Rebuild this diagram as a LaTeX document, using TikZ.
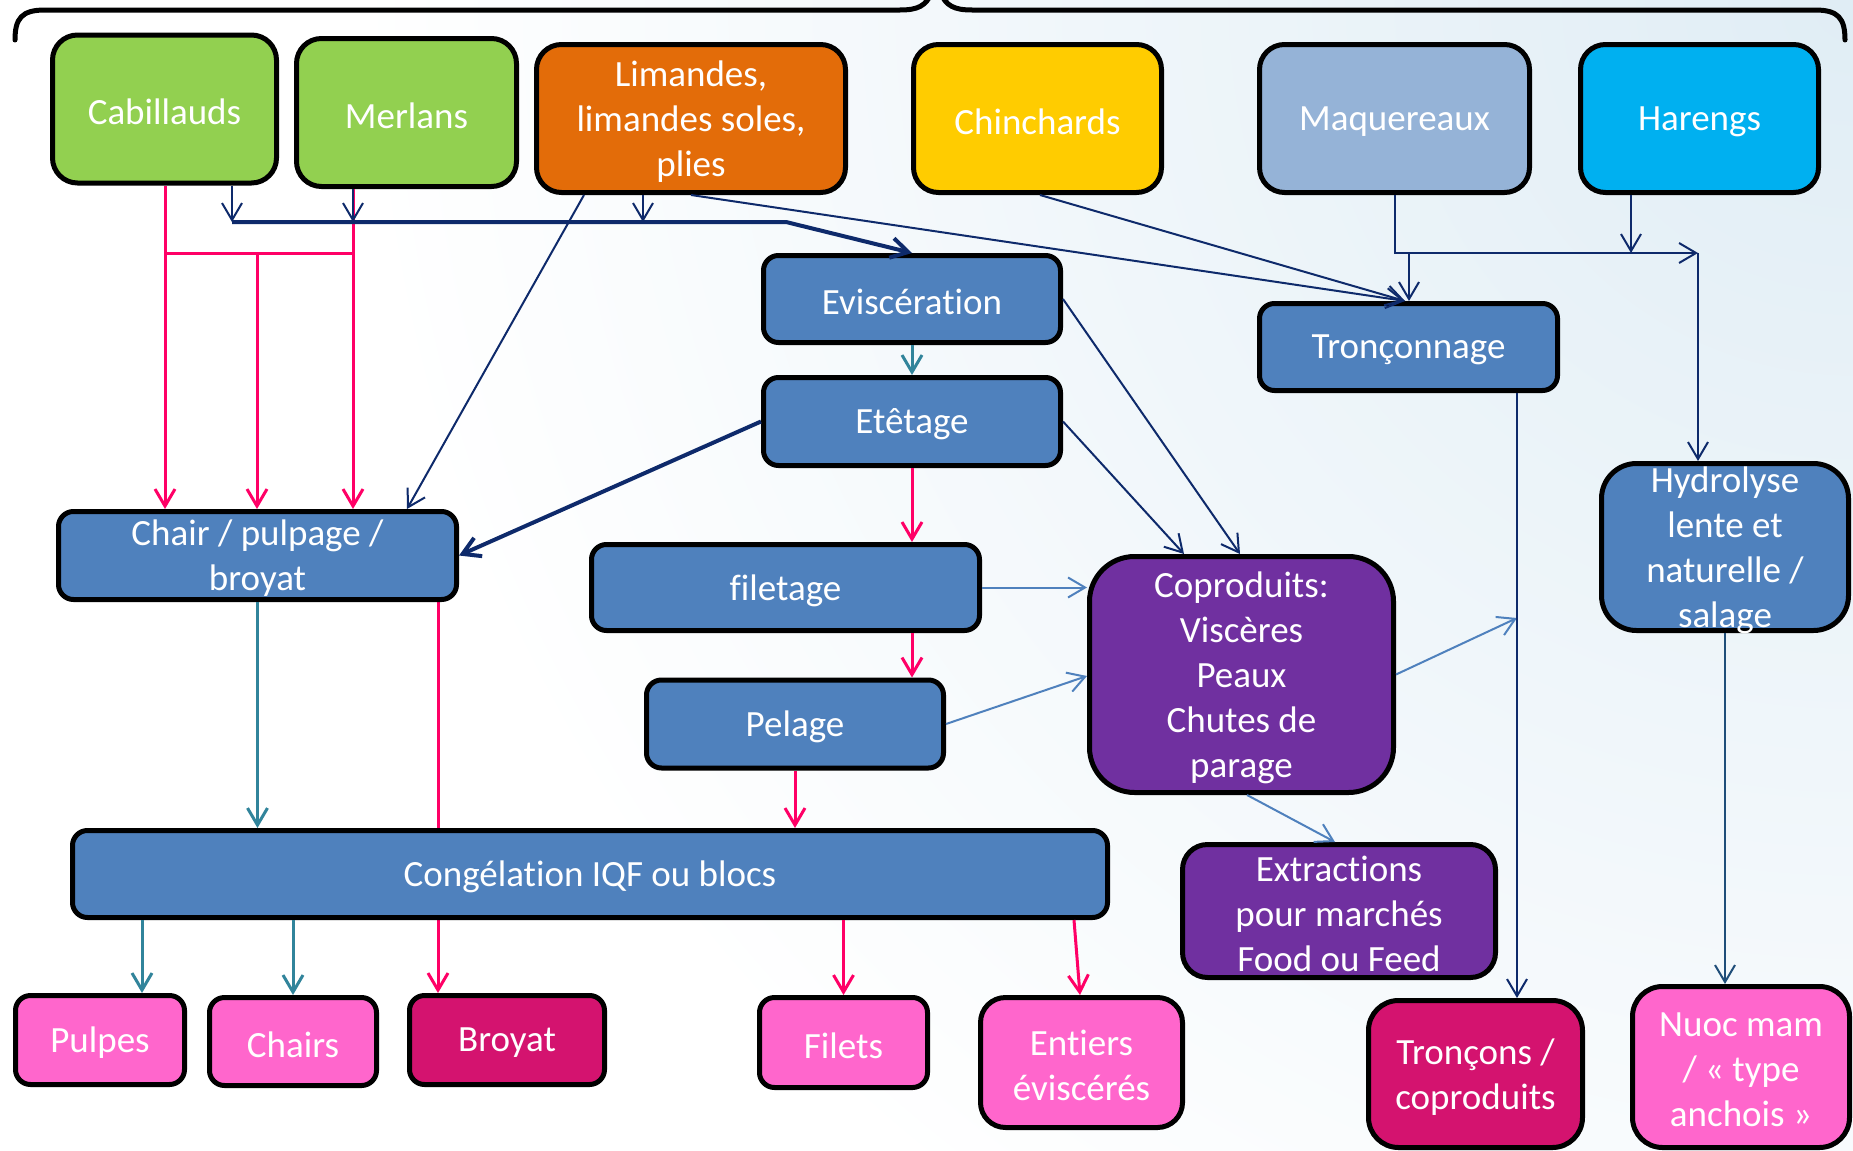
\documentclass[tikz,border=0pt]{standalone}
\usepackage{fontspec}
\setmainfont{Carlito}[Ligatures=NoCommon]
\usetikzlibrary{arrows.meta}
\pgfdeclarelayer{bg}
\pgfsetlayers{bg,main}
\definecolor{navyc}{HTML}{0E2A6B}
\definecolor{pinkc}{HTML}{FF0066}
\definecolor{tealc}{HTML}{31849B}
\definecolor{deepteal}{HTML}{1F4E79}
\definecolor{steelc}{HTML}{4F81BD}
\definecolor{boxblue}{HTML}{4F81BD}
\definecolor{greenf}{HTML}{92D050}
\definecolor{orangef}{HTML}{E36C09}
\definecolor{yellowf}{HTML}{FFCC00}
\definecolor{lightbluef}{HTML}{95B3D7}
\definecolor{cyanf}{HTML}{00B0F0}
\definecolor{purplef}{HTML}{7030A0}
\definecolor{pinkf}{HTML}{FF66CC}
\definecolor{darkpinkf}{HTML}{D4136F}
\definecolor{bgblue}{HTML}{E0EDF5}
\begin{document}
\begin{tikzpicture}[x=1pt,y=-1pt,
  box/.style={draw=black, line width=5pt, rounded corners=#1, inner sep=0pt},
  box/.default=15pt,
  lbl/.style={text=white, align=center, font=\fontsize{37}{45}\selectfont, inner sep=0pt, yshift=-3pt},
  tip/.style={-{Straight Barb[length=17pt,width=20pt]}},
  navyl/.style={draw=navyc, line width=2pt},
  navyk/.style={draw=navyc, line width=4pt},
  pinkl/.style={draw=pinkc, line width=3pt},
  teall/.style={draw=tealc, line width=3pt},
  steell/.style={draw=steelc, line width=2pt}]
\useasboundingbox (0,0) rectangle (1853,1151);
\clip (0,0) rectangle (1853,1151);
\begin{pgfonlayer}{bg}
\fill[white] (0,0) rectangle (1853,1151);
\shade[inner color=bgblue, outer color=white] (1853,0) circle (1500);
\end{pgfonlayer}

% brace
\draw[line width=5pt, line cap=round] (15,40) .. controls (15,18) and (22,10) .. (45,10) -- (900,10) .. controls (918,10) and (926,6) .. (932,-8);
\draw[line width=5pt, line cap=round] (940,-8) .. controls (946,6) and (954,10) .. (972,10) -- (1815,10) .. controls (1838,10) and (1845,18) .. (1845,40);

% nodes
\node[box=25pt, fill=greenf, minimum width=224pt, minimum height=148pt, label={[lbl]center:Cabillauds}] (cab) at (164.5,109) {};
\node[box=25pt, fill=greenf, minimum width=220pt, minimum height=148pt, label={[lbl]center:Merlans}] (mer) at (406.5,112.5) {};
\node[box=25pt, fill=orangef, minimum width=309pt, minimum height=148pt, label={[lbl]center:{Limandes,\\limandes soles,\\plies}}] (lim) at (691,118.5) {};
\node[box=25pt, fill=yellowf, minimum width=248pt, minimum height=148pt, label={[lbl]center:Chinchards}] (chin) at (1037.5,118.5) {};
\node[box=25pt, fill=lightbluef, minimum width=270pt, minimum height=148pt, label={[lbl]center:Maquereaux}] (maq) at (1394.5,118.5) {};
\node[box=25pt, fill=cyanf, minimum width=238pt, minimum height=148pt, label={[lbl]center:Harengs}] (har) at (1699.5,118.5) {};
\node[box, fill=boxblue, minimum width=297pt, minimum height=87pt, label={[lbl]center:Eviscération}] (evi) at (912,299) {};
\node[box, fill=boxblue, minimum width=298pt, minimum height=87pt, label={[lbl]center:Tronçonnage}] (tron) at (1408.5,347) {};
\node[box, fill=boxblue, minimum width=297pt, minimum height=88pt, label={[lbl]center:Etêtage}] (ete) at (912,421.5) {};
\node[box=35pt, fill=boxblue, minimum width=247pt, minimum height=167pt, label={[lbl]center:{Hydrolyse\\lente et\\naturelle /\\salage}}] (hyd) at (1725,547) {};
\node[box, fill=boxblue, minimum width=398pt, minimum height=88pt, label={[lbl]center:{Chair / pulpage /\\broyat}}] (chair) at (257.5,555.5) {};
\node[box, fill=boxblue, minimum width=388pt, minimum height=86pt, label={[lbl]center:filetage}] (fil) at (785.5,587.5) {};
\node[box=45pt, fill=purplef, minimum width=304pt, minimum height=236pt, label={[lbl]center:{Coproduits:\\Viscères\\Peaux\\Chutes de\\parage}}] (cop) at (1241.5,674.5) {};
\node[box, fill=boxblue, minimum width=297pt, minimum height=88pt, label={[lbl]center:Pelage}] (pel) at (795,724) {};
\node[box, fill=boxblue, minimum width=1035pt, minimum height=87pt, label={[lbl]center:Congélation IQF ou blocs}] (cong) at (590,874) {};
\node[box=25pt, fill=purplef, minimum width=313pt, minimum height=133pt, label={[lbl]center:{Extractions\\pour marchés\\Food ou Feed}}] (ext) at (1339,911) {};
\node[box, fill=pinkf, minimum width=169pt, minimum height=89pt, label={[lbl]center:Pulpes}] (pul) at (100,1040) {};
\node[box, fill=pinkf, minimum width=167pt, minimum height=88pt, label={[lbl]center:Chairs}] (chs) at (293,1041.5) {};
\node[box, fill=darkpinkf, minimum width=195pt, minimum height=89pt, label={[lbl]center:Broyat}] (broy) at (507,1040) {};
\node[box, fill=pinkf, minimum width=168pt, minimum height=90pt, label={[lbl]center:Filets}] (filets) at (843.5,1042.5) {};
\node[box=25pt, fill=pinkf, minimum width=202pt, minimum height=130pt, label={[lbl]center:{Entiers\\éviscérés}}] (ent) at (1081.5,1062.5) {};
\node[box=30pt, fill=darkpinkf, minimum width=214pt, minimum height=147pt, label={[lbl]center:{Tronçons /\\coproduits}}] (trcp) at (1475.5,1074) {};
\node[box=30pt, fill=pinkf, minimum width=217pt, minimum height=161pt, label={[lbl]center:{Nuoc mam\\/ « type\\anchois »}}] (nuoc) at (1741,1067) {};

% helper coordinates
\coordinate (busL) at (232,222);
\coordinate (busM) at (353,222);
\coordinate (busN) at (643,222);
\coordinate (busBend) at (786,222);
\coordinate (pinkL) at (165,253);
\coordinate (pinkM) at (257,253);
\coordinate (pinkR) at (353,253);
\coordinate (xLimA) at (584,0);
\coordinate (xLimB) at (691,0);
\coordinate (xChairIn) at (407,0);
\coordinate (xChin) at (1040,0);
\coordinate (xTronIn) at (1405,0);
\coordinate (xMaq) at (1395,0);
\coordinate (xMaqT) at (1409,0);
\coordinate (xHar) at (1631,0);
\coordinate (maqbus) at (1698,253);
\coordinate (xCopA) at (1240,0);
\coordinate (xCopB) at (1184,0);
\coordinate (xBroy) at (438,0);
\coordinate (yPel) at (0,676);
\coordinate (lineHit) at (1517,618);
\coordinate (tronX) at (1517,0);
\coordinate (xCopS) at (1247,0);
\coordinate (xExt) at (1335,0);
\coordinate (xPul) at (142,0);
\coordinate (xEntA) at (1074,0);
\coordinate (xEntB) at (1080,0);

% pink from green boxes
\draw[pinkl,tip] (cab.south -| pinkL) -- (chair.north -| pinkL);
\draw[pinkl,tip] (mer.south -| pinkR) -- (chair.north -| pinkR);
\draw[pinkl] (pinkL) -- (pinkR);
\draw[pinkl,tip] (pinkM) -- (chair.north -| pinkM);

% navy bus
\draw[navyl,tip] (cab.south -| busL) -- (busL);
\draw[navyl,tip] (mer.south -| busM) -- (busM);
\draw[navyl,tip] (lim.south -| busN) -- (busN);
\draw[navyk,tip] (busL) -- (busBend) -- (evi.north);
\draw[navyl,tip] (lim.south -| xLimA) -- (chair.north -| xChairIn);
\draw[navyl,tip] (lim.south -| xLimB) -- (tron.north -| xTronIn);
\draw[navyl,tip] (chin.south -| xChin) -- (tron.north -| xTronIn);
\draw[navyl,tip] (maq.south -| xMaq) |- (maqbus);
\draw[navyl,tip] (maqbus) -- (hyd.north -| maqbus);
\draw[navyl,tip] (xMaqT |- maqbus) -- (tron.north -| xMaqT);
\draw[navyl,tip] (har.south -| xHar) -- (xHar |- maqbus);
\draw[navyl,tip] (evi.east) -- (cop.north -| xCopA);
\draw[navyl,tip] (ete.east) -- (cop.north -| xCopB);
\draw[navyk,tip] (ete.west) -- (chair.east);

% process chain
\draw[teall,tip] (evi.south) -- (ete.north);
\draw[pinkl,tip] (ete.south) -- (fil.north -| ete.south);
\draw[pinkl,tip] (fil.south -| ete.south) -- (pel.north -| ete.south);
\draw[pinkl,tip] (pel.south) -- (cong.north -| pel.south);
\draw[teall,tip] (chair.south) -- (cong.north -| chair.south);
\begin{pgfonlayer}{bg}
\draw[pinkl,tip] (chair.south -| xBroy) -- (broy.north -| xBroy);
\end{pgfonlayer}
\draw[steell,tip] (fil.east) -- (cop.west |- fil.east);
\draw[steell,tip] (pel.east) -- (cop.west |- yPel);
\draw[steell,tip] (cop.east) -- (lineHit);
\draw[steell,tip] (cop.south -| xCopS) -- (ext.north -| xExt);
\draw[navyl,tip] (tron.south -| tronX) -- (trcp.north -| tronX);
\draw[draw=deepteal, line width=2pt, tip] (hyd.south) -- (nuoc.north -| hyd.south);

% outputs
\draw[teall,tip] (cong.south -| xPul) -- (pul.north -| xPul);
\draw[teall,tip] (cong.south -| chs.north) -- (chs.north);
\draw[pinkl,tip] (cong.south -| filets.north) -- (filets.north);
\draw[pinkl,tip] (cong.south -| xEntA) -- (ent.north -| xEntB);
\end{tikzpicture}
\end{document}
